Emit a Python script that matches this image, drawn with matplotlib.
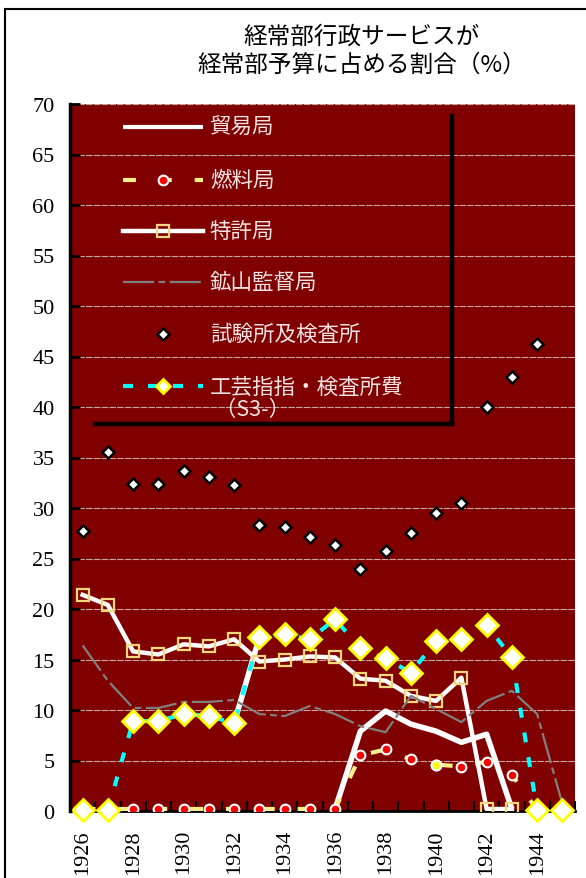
import numpy as np
import matplotlib
matplotlib.use('Agg')
import matplotlib.pyplot as plt
from matplotlib.lines import Line2D
from matplotlib.patches import Rectangle

nan = np.nan
years = list(range(1926, 1946))
title = "経常部行政サービスが\n経常部予算に占める割合（%）"

# 貿易局
boeki = [nan, nan, nan, nan, nan, nan, 8.7, 17.2, nan, nan,
         0.2, 7.9, 9.9, 8.6, 7.9, 6.8, 7.6, 0.2, nan, nan]
# 燃料局
nenryo = [0.2, 0.2, 0.2, 0.2, 0.2, 0.2, 0.2, 0.2, 0.2, 0.2,
          0.2, 5.5, 6.1, 5.1, 4.6, 4.4, 4.9, 3.6, 0.1, nan]
nenryo_highlight_years = [1940]
# 特許局
tokkyo = [21.4, 20.4, 15.8, 15.5, 16.5, 16.3, 17.0, 14.8, 15.0, 15.3,
          15.2, 13.1, 12.9, 11.4, 10.9, 13.2, 0.2, 0.2, nan, nan]
# 鉱山監督局
kozan = [16.4, 12.9, 10.2, 10.2, 10.8, 10.8, 11.0, 9.6, 9.4, 10.4,
         9.6, 8.4, 7.8, 11.4, 10.1, 8.8, 10.9, 11.9, 9.6, 0.7]
# 試験所及検査所
shiken = [27.7, 35.5, 32.4, 32.4, 33.7, 33.1, 32.3, 28.3, 28.1, 27.1,
          26.3, 24.0, 25.7, 27.5, 29.5, 30.5, 40.0, 43.0, 46.2, nan]
# 工芸指指・検査所費 (S3-)
kogei = [0.1, 0.1, 8.9, 8.9, 9.6, 9.4, 8.7, 17.2, 17.5, 17.0,
         19.0, 16.1, 15.1, 13.7, 16.8, 17.0, 18.4, 15.2, 0.1, 0.1]

labels = ["貿易局", "燃料局", "特許局", "鉱山監督局", "試験所及検査所",
          "工芸指指・検査所費\n （S3-）"]
yticks = list(range(0, 75, 5))

W, H = 586, 879
fig = plt.figure(figsize=(W / 100, H / 100), dpi=100)
fig.patch.set_facecolor('white')
ax = fig.add_axes([70 / W, 1 - 812 / H, 505 / W, 707 / H])
ax.set_facecolor('#800000')

x = np.arange(len(years))

cj = ['Noto Sans CJK JP', 'DejaVu Sans']
serif = ['Liberation Serif', 'DejaVu Serif']

# styles
st_boeki = dict(color='white', lw=4.0, solid_capstyle='butt')
st_nenryo = dict(color='#f7f08a', lw=3.0, linestyle=(0, (3.1, 5.5)),
                 marker='o', mfc='#ff0000', mec='white', mew=1.5)
st_tokkyo = dict(color='white', lw=3.2, marker='s', mfc='none',
                 mec='#f5d77f', mew=1.6)
st_kozan = dict(color='#808080', lw=1.6, linestyle=(0, (14, 2, 3, 2)))
st_shiken = dict(linestyle='none', marker='D', mfc='white', mec='black', mew=1.8)
st_kogei = dict(color='#00ffff', lw=3.0, linestyle=(0, (2.4, 3.6)),
                marker='D', mfc='white', mec='#ffff00', mew=2.0)

ax.plot(x, boeki, zorder=3, **st_boeki)
ax.plot(x, nenryo, zorder=4, ms=7, **st_nenryo)
hi = [years.index(y) for y in nenryo_highlight_years]
ax.plot(x[hi], np.array(nenryo)[hi], linestyle='none', marker='o', ms=7,
        mfc='#ffff00', mec='white', mew=1.5, zorder=4.1)
ax.plot(x, tokkyo, zorder=5, ms=8, **st_tokkyo)
ax.plot(x, kozan, zorder=6, **st_kozan)
ax.plot(x, shiken, zorder=7, ms=6.5, **st_shiken)
ax.plot(x, kogei, zorder=8, ms=11, clip_on=False, **st_kogei)

ax.set_xlim(-0.5, len(years) - 0.5)
ax.set_ylim(0, 70)

# grid
ax.set_yticks(yticks)
ax.set_yticklabels([str(v) for v in yticks], fontfamily=serif, fontsize=16)
ax.yaxis.grid(True, color='#c8a4a4', lw=0.8, linestyle=(0, (6, 1)))
ax.set_axisbelow(True)
ax.tick_params(axis='y', direction='in', length=7, width=2, color='black',
               pad=11, labelcolor='black')

ax.set_xticks(x[::2])
ax.set_xticklabels([str(y) for y in years[::2]], rotation=90,
                   fontfamily=serif, fontsize=16)
ax.set_xticks(np.arange(-0.5, len(years), 1), minor=True)
ax.tick_params(axis='x', which='major', length=0, pad=13)
ax.tick_params(axis='x', which='minor', direction='in', length=7, width=1.5,
               color='black')

for s in ['top', 'right']:
    ax.spines[s].set_visible(False)
ax.spines['left'].set_linewidth(2.5)
ax.spines['bottom'].set_linewidth(2.0)
ax.spines['left'].set_zorder(10)
ax.spines['bottom'].set_zorder(2.5)

# legend (manual, in axes fraction)
tr = ax.transAxes
rows = [0.9675, 0.8925, 0.8204, 0.7482, 0.6747, 0.6011]
x0, x1, xm, xt = 0.105, 0.2634, 0.184, 0.277
handles = [
    (dict(st_boeki, lw=3.0), None),
    (dict(st_nenryo, marker=None), dict(marker='o', ms=7, mfc='#ff0000', mec='white', mew=1.5)),
    (dict(st_tokkyo, marker=None), dict(marker='s', ms=8, mfc='none', mec='#f5d77f', mew=1.6)),
    (st_kozan, None),
    (None, dict(marker='D', ms=6.5, mfc='white', mec='black', mew=1.8)),
    (dict(st_kogei, marker=None), dict(marker='D', ms=7, mfc='white', mec='#ffff00', mew=2.0)),
]
for (lst, mst), yy, lab in zip(handles, rows, labels):
    if lst is not None:
        l = dict(lst)
        l.pop('marker', None)
        for k in ['mfc', 'mec', 'mew']:
            l.pop(k, None)
        ax.add_line(Line2D([x0, x1], [yy, yy], transform=tr, zorder=20, **l))
    if mst is not None:
        ax.add_line(Line2D([xm], [yy], transform=tr, linestyle='none', zorder=21, **mst))
    if '\n' in lab:
        ax.text(xt, yy + 0.014, lab, transform=tr, fontfamily=cj, fontsize=15.5,
                color='#f4e4e4', va='top', ha='left', zorder=22, linespacing=1.0)
    else:
        ax.text(xt, yy, lab, transform=tr, fontfamily=cj, fontsize=15.5,
                color='#f4e4e4', va='center', ha='left', zorder=22)

# legend shadow lines
ax.add_line(Line2D([0.7564, 0.7564], [0.983, 0.5474], transform=tr,
                   color='black', lw=3.2, zorder=19, solid_capstyle='projecting'))
ax.add_line(Line2D([0.0495, 0.7564], [0.5474, 0.5474], transform=tr,
                   color='black', lw=3.2, zorder=19, solid_capstyle='projecting'))

# title
fig.text(362 / W, 1 - 51 / H, title, ha='center', va='center',
         fontfamily=cj, fontsize=17, color='black', linespacing=1.25)

# chart border
fig.patches.append(Rectangle((5 / W, -0.5), 2, 1.5 - 10 / H, transform=fig.transFigure,
                             fill=False, edgecolor='black', lw=1.5))

fig.savefig('out.png', dpi=100, facecolor='white')
